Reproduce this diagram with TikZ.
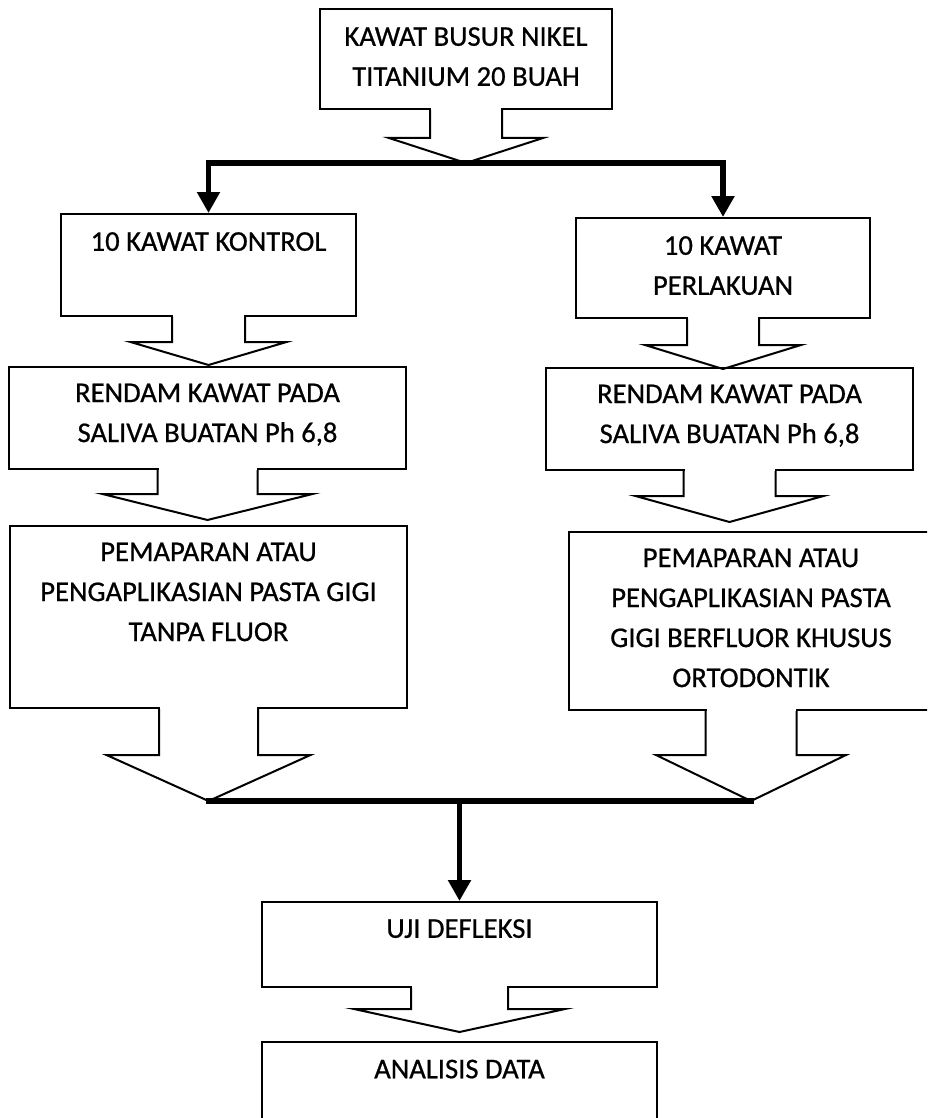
\documentclass[tikz,border=0pt]{standalone}
\usepackage{fontspec}
\setmainfont[FakeBold=0.7]{Carlito}
\usetikzlibrary{calc,positioning,arrows.meta}

\begin{document}
\begin{tikzpicture}[x=1pt,y=-1pt,line join=miter,
  box/.style={draw, line width=2pt, rectangle, inner sep=0pt},
  txt/.style={inner sep=0pt, align=center, font=\fontsize{28.6}{40}\selectfont},
  hollow/.style={line width=2pt},
  conn/.style={line width=5.5pt, line cap=rect},
  headarrow/.style={line cap=butt, -{Triangle[length=21pt,width=22pt]}}]

  \useasboundingbox (0,0) rectangle (927,1118);
  \clip (0,0) rectangle (927,1118);

  % 1. start
  \node[box, minimum width=292pt, minimum height=100pt] (kawat) at (466,59) {};
  \node[txt, below=19pt of kawat.north] (kawat-t) {KAWAT BUSUR NIKEL\\TITANIUM 20 BUAH};

  % 2. two groups
  \node[box, minimum width=295pt, minimum height=102pt] (kontrol) at (208.5,265) {};
  \node[txt, below=19pt of kontrol.north] (kontrol-t) {10 KAWAT KONTROL};
  \node[box, minimum width=294pt, minimum height=100pt] (perlakuan) at (723,268) {};
  \node[txt, below=19pt of perlakuan.north] (perlakuan-t) {10 KAWAT\\PERLAKUAN};

  % 3. saliva
  \node[box, minimum width=397pt, minimum height=102pt] (rendamL) at (207.5,418) {};
  \node[txt, below=17.5pt of rendamL.north] (rendamL-t) {RENDAM KAWAT PADA\\SALIVA BUATAN Ph 6,8};
  \node[box, minimum width=367pt, minimum height=102pt] (rendamR) at (729.5,419) {};
  \node[txt, below=17.5pt of rendamR.north] (rendamR-t) {RENDAM KAWAT PADA\\SALIVA BUATAN Ph 6,8};

  % 4. pasta gigi
  \node[box, minimum width=397pt, minimum height=182pt] (paparL) at (208.5,617) {};
  \node[txt, below=17.5pt of paparL.north] (paparL-t) {PEMAPARAN ATAU\\PENGAPLIKASIAN PASTA GIGI\\TANPA FLUOR};
  \node[box, minimum width=364pt, minimum height=178pt] (paparR) at (751,621) {};
  \node[txt, below=17.5pt of paparR.north] (paparR-t) {PEMAPARAN ATAU\\PENGAPLIKASIAN PASTA\\GIGI BERFLUOR KHUSUS\\ORTODONTIK};

  % 5. uji dan analisis
  \node[box, minimum width=395pt, minimum height=85pt] (uji) at (459.5,944.5) {};
  \node[txt, below=18pt of uji.north] (uji-t) {UJI DEFLEKSI};
  \node[box, minimum width=395pt, minimum height=96pt] (analisis) at (459.5,1090) {};
  \node[txt, below=18.5pt of analisis.north] (analisis-t) {ANALISIS DATA};

  % hollow block arrows under the boxes
  \foreach \bx/\sw/\sd/\ww/\td in {kawat/36/28/77/25, kontrol/36.5/25/78/23,
      perlakuan/36/26/78/24, rendamL/50/24/105/26, rendamR/46/25/94/26,
      paparL/49.5/46/102/46, paparR/45.5/44/95/46, uji/48.5/21/105.5/23}{
    \fill[white] ($(\bx.south)+(-\sw+1,-3.2)$) rectangle ($(\bx.south)+(\sw-1,0.2)$);
    \draw[hollow] ($(\bx.south)+(-\sw,0)$) -- ($(\bx.south)+(-\sw,\sd)$)
      -- ($(\bx.south)+(-\ww,\sd)$) -- ($(\bx.south)+(0,\sd+\td)$) coordinate (\bx-tip)
      -- ($(\bx.south)+(\ww,\sd)$) -- ($(\bx.south)+(\sw,\sd)$) -- ($(\bx.south)+(\sw,0)$);
  }

  % thick connectors
  \draw[conn] (kontrol.north |- kawat-tip) -- (perlakuan.north |- kawat-tip);
  \draw[conn, headarrow] (kontrol.north |- kawat-tip) -- (kontrol.north);
  \draw[conn, headarrow] (perlakuan.north |- kawat-tip) -- (perlakuan.north);

  \draw[conn] (paparL-tip) -- (paparR-tip);
  \draw[conn, headarrow] (uji.north |- paparL-tip) -- (uji.north);

\end{tikzpicture}
\end{document}
